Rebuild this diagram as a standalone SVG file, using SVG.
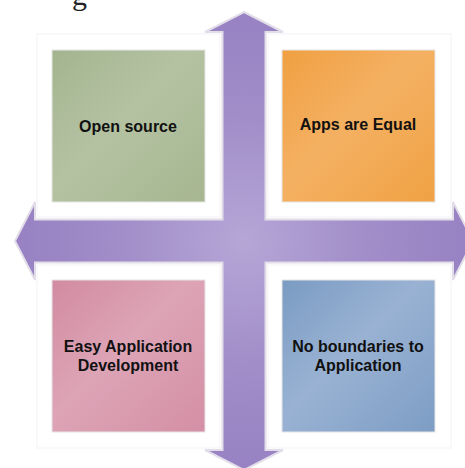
<svg xmlns="http://www.w3.org/2000/svg" width="465" height="468" viewBox="0 0 465 468">
  <defs>
    <radialGradient id="gPurple" cx="244" cy="241" r="240" gradientUnits="userSpaceOnUse">
      <stop offset="0" stop-color="#b5a6d6"/>
      <stop offset="0.5" stop-color="#a28ec9"/>
      <stop offset="1" stop-color="#9680c2"/>
    </radialGradient>
    <linearGradient id="gGreen" x1="0" y1="0" x2="1" y2="1">
      <stop offset="0" stop-color="#a4b48f"/>
      <stop offset="0.45" stop-color="#b4c2a2"/>
      <stop offset="1" stop-color="#a6b690"/>
    </linearGradient>
    <linearGradient id="gOrange" x1="0" y1="0" x2="1" y2="1">
      <stop offset="0" stop-color="#f0a042"/>
      <stop offset="0.45" stop-color="#f4b062"/>
      <stop offset="1" stop-color="#f0a244"/>
    </linearGradient>
    <linearGradient id="gPink" x1="0" y1="0" x2="1" y2="1">
      <stop offset="0" stop-color="#d28ba1"/>
      <stop offset="0.45" stop-color="#dda4b6"/>
      <stop offset="1" stop-color="#d48fa5"/>
    </linearGradient>
    <linearGradient id="gBlue" x1="0" y1="0" x2="1" y2="1">
      <stop offset="0" stop-color="#7a9bc2"/>
      <stop offset="0.45" stop-color="#99b2d3"/>
      <stop offset="1" stop-color="#7d9dc4"/>
    </linearGradient>
  </defs>
  <style>
    .frame { fill: #ffffff; stroke: #f3f1f5; stroke-width: 1; }
    .tile { stroke: #e6e6e6; stroke-width: 1; }
    .lbl { font-family: "Liberation Sans", Arial, sans-serif; font-weight: bold; font-size: 16px; fill: #111111; text-anchor: middle; }
  </style>
  <rect width="465" height="468" fill="#ffffff"/>
  <text x="72" y="5" font-family="Liberation Serif, serif" font-size="30" fill="#222">g</text>

  <g id="connectors">
    <path d="M244,12 L283,32 L265.5,32 L265.5,219.5 L453,219.5 L453,202 L473,241 L453,280 L453,262.5 L265.5,262.5 L265.5,450 L283,450 L244,470 L205,450 L222.5,450 L222.5,262.5 L35,262.5 L35,280 L15,241 L35,202 L35,219.5 L222.5,219.5 L222.5,32 L205,32 Z" fill="url(#gPurple)" stroke="#e2dde8" stroke-width="2" stroke-linejoin="miter"/>
  </g>

  <g id="node-open-source">
    <rect class="frame" x="37" y="34" width="183" height="183"/>
    <rect class="tile" x="52" y="50" width="153" height="152" fill="url(#gGreen)"/>
    <text class="lbl" x="128" y="132">Open source</text>
  </g>
  <g id="node-apps-equal">
    <rect class="frame" x="268" y="34" width="183" height="183"/>
    <rect class="tile" x="282" y="50" width="153" height="152" fill="url(#gOrange)"/>
    <text class="lbl" x="358" y="130">Apps are Equal</text>
  </g>
  <g id="node-easy-dev">
    <rect class="frame" x="37" y="265" width="183" height="183"/>
    <rect class="tile" x="52" y="280" width="153" height="152" fill="url(#gPink)"/>
    <text class="lbl" x="128" y="352">Easy Application</text>
    <text class="lbl" x="128" y="371">Development</text>
  </g>
  <g id="node-no-boundaries">
    <rect class="frame" x="268" y="265" width="183" height="183"/>
    <rect class="tile" x="282" y="280" width="153" height="152" fill="url(#gBlue)"/>
    <text class="lbl" x="358" y="352">No boundaries to</text>
    <text class="lbl" x="358" y="371">Application</text>
  </g>
</svg>
